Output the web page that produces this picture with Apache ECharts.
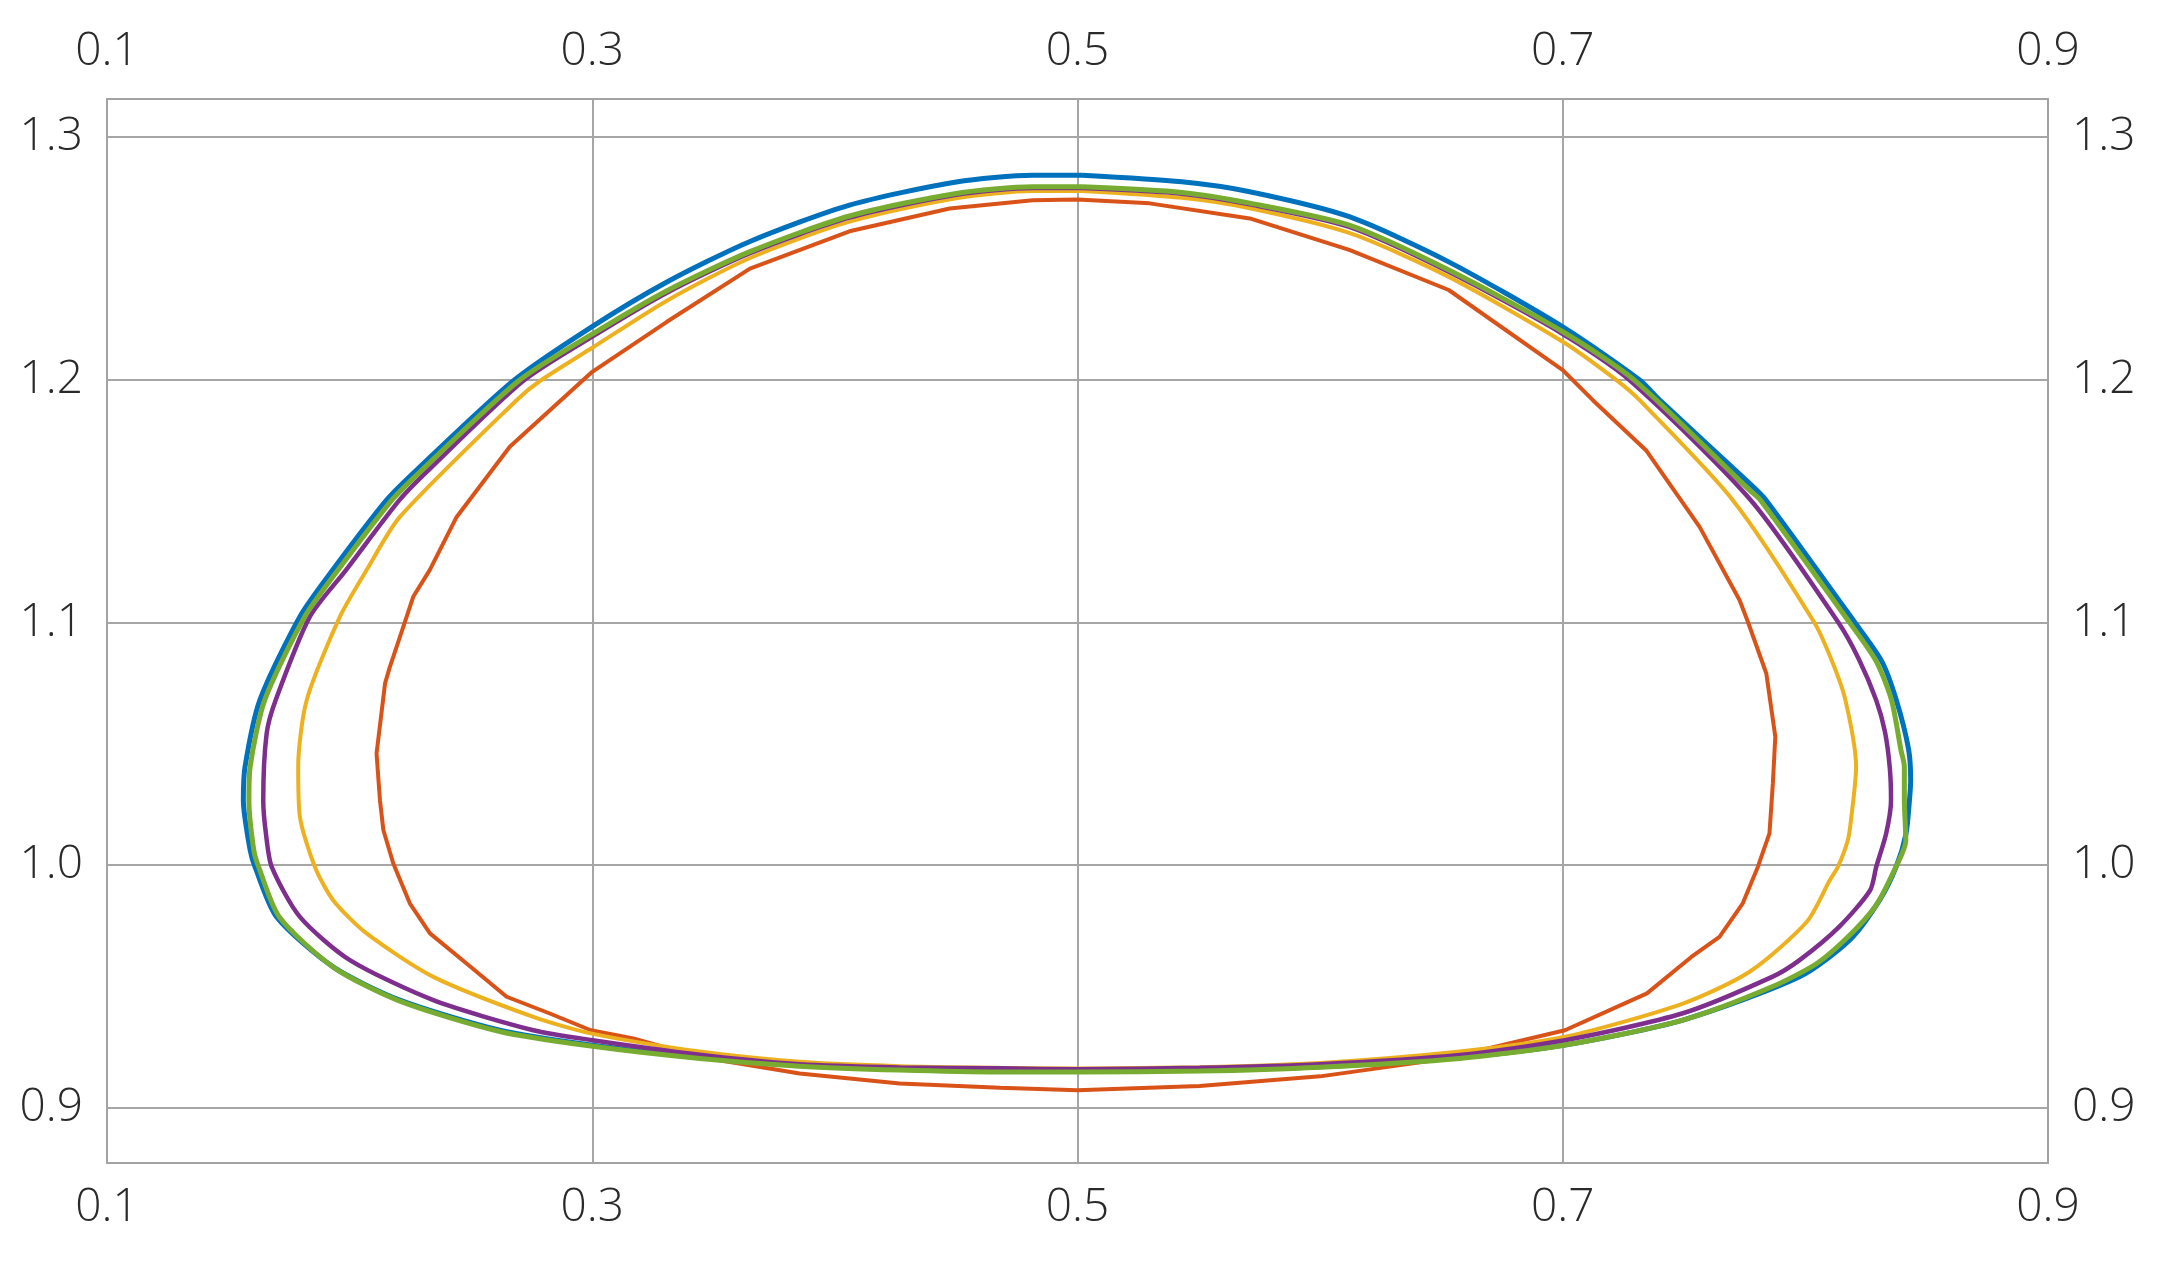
<!DOCTYPE html>
<html>
<head>
<meta charset="utf-8">
<script src="https://cdn.jsdelivr.net/npm/echarts@6/dist/echarts.min.js"></script>
<style>
  html, body { margin: 0; padding: 0; background: #ffffff; }
  #chart { width: 2160px; height: 1262px; }
</style>
</head>
<body>
<div id="chart"></div>
<script>
// ---- data (x, y) ----
const xTicks = [0.1, 0.3, 0.5, 0.7, 0.9];
const yTicks = [0.9, 1.0, 1.1, 1.2, 1.3];

const blueCurve = [
  [0.502,1.2843],[0.4815,1.2843],[0.450,1.2815],[0.406,1.272],[0.365,1.257],[0.3306,1.2402],
  [0.2993,1.2215],[0.2674,1.1995],[0.2276,1.1628],[0.2152,1.1504],[0.193,1.1216],[0.1795,1.1024],
  [0.163,1.068],[0.1569,1.0406],[0.1562,1.0268],[0.159,1.0062],[0.161,0.9993],[0.1699,0.9787],
  [0.1932,0.9581],[0.2207,0.9444],[0.2619,0.932],[0.2994,0.9259],[0.3443,0.9208],[0.3855,0.9175],
  [0.4267,0.916],[0.468,0.9152],[0.5,0.9152],[0.5503,0.9156],[0.6,0.917],[0.6575,0.9208],
  [0.7009,0.9259],[0.7495,0.9362],[0.7976,0.954],[0.8182,0.9691],[0.8306,0.9856],[0.8374,0.9993],
  [0.8415,1.0131],[0.8429,1.0268],[0.8434,1.035],[0.8425,1.048],[0.8375,1.068],[0.8315,1.084],
  [0.8202,1.1003],[0.7838,1.1504],[0.777,1.1573],[0.74,1.1916],[0.7317,1.1999],[0.7,1.2218],
  [0.653,1.2486],[0.612,1.2672],[0.571,1.2775],[0.543,1.2816],[0.502,1.2843]
];

const redCurve = [
  [0.5,1.2743],[0.4815,1.274],[0.4473,1.2706],[0.406,1.2612],[0.365,1.2458],[0.3306,1.2238],
  [0.3,1.2033],[0.266,1.1724],[0.2441,1.1435],[0.233,1.1216],[0.2262,1.1106],[0.2228,1.1003],
  [0.2166,1.0817],[0.2146,1.0749],[0.2111,1.046],[0.2125,1.0268],[0.2139,1.0145],[0.218,1.0007],
  [0.2248,0.9843],[0.2331,0.9719],[0.2482,0.9595],[0.2647,0.9458],[0.2825,0.9389],[0.2994,0.932],
  [0.3169,0.9286],[0.3443,0.921],[0.3855,0.9142],[0.4267,0.9101],[0.468,0.9083],[0.5,0.9073],
  [0.5503,0.909],[0.6,0.913],[0.65,0.92],[0.7009,0.932],[0.7347,0.9472],[0.753,0.9622],
  [0.7646,0.9705],[0.7742,0.9843],[0.7804,0.9993],[0.7852,1.0131],[0.7866,1.0337],[0.7876,1.053],
  [0.7839,1.079],[0.7763,1.1003],[0.7729,1.1092],[0.7564,1.1394],[0.7343,1.171],[0.7124,1.1916],
  [0.7,1.204],[0.653,1.237],[0.612,1.2535],[0.571,1.2665],[0.5297,1.2727],[0.5,1.2743]
];

const yellowCurve = [
  [0.502,1.2778],[0.4815,1.2778],[0.450,1.2748],[0.406,1.2652],[0.365,1.2502],[0.3306,1.2325],
  [0.3,1.2132],[0.2784,1.1995],[0.2688,1.1916],[0.2207,1.1435],[0.207,1.1216],[0.196,1.1024],
  [0.1823,1.068],[0.1788,1.0406],[0.1795,1.02],[0.1857,0.9993],[0.1932,0.9856],[0.207,0.9719],
  [0.2345,0.954],[0.2757,0.9375],[0.2994,0.9307],[0.3443,0.9232],[0.3855,0.919],[0.4267,0.9172],
  [0.468,0.9165],[0.5,0.9162],[0.5503,0.9168],[0.6,0.9185],[0.6575,0.9232],[0.7009,0.9293],
  [0.7495,0.943],[0.777,0.9561],[0.8006,0.9767],[0.8101,0.9939],[0.8134,0.9993],[0.8175,1.0103],
  [0.8188,1.0186],[0.8209,1.0406],[0.8165,1.068],[0.811,1.084],[0.8035,1.1003],[0.7701,1.1504],
  [0.7317,1.1916],[0.722,1.2],[0.7,1.2157],[0.653,1.2424],[0.612,1.2605],[0.571,1.2707],
  [0.543,1.275],[0.502,1.2778]
];

const purpleCurve = [
  [0.502,1.279],[0.4815,1.279],[0.450,1.2762],[0.406,1.2668],[0.365,1.2522],[0.3306,1.2358],
  [0.3,1.2178],[0.2715,1.1995],[0.2325,1.1628],[0.2205,1.1504],[0.1985,1.1216],[0.1836,1.1024],
  [0.1695,1.068],[0.1658,1.0543],[0.1644,1.0268],[0.1655,1.0131],[0.1679,0.9993],[0.1795,0.9787],
  [0.2001,0.9609],[0.2345,0.9444],[0.2757,0.932],[0.2994,0.928],[0.3443,0.9219],[0.3855,0.918],
  [0.4267,0.9167],[0.468,0.9163],[0.5,0.9159],[0.5503,0.9165],[0.6,0.918],[0.6575,0.9218],
  [0.7009,0.9279],[0.7495,0.939],[0.7863,0.954],[0.7976,0.9609],[0.8139,0.9746],[0.8267,0.9897],
  [0.8292,0.9993],[0.8333,1.0131],[0.8353,1.0268],[0.8348,1.04],[0.8328,1.055],[0.8292,1.068],
  [0.822,1.085],[0.8134,1.1003],[0.7775,1.1504],[0.7275,1.1999],[0.699,1.2195],[0.653,1.2445],
  [0.612,1.263],[0.571,1.2723],[0.543,1.2767],[0.502,1.279]
];

const greenCurve = [
  [0.502,1.2795],[0.4815,1.2795],[0.450,1.2768],[0.406,1.2675],[0.365,1.2528],[0.3306,1.2366],
  [0.3,1.2188],[0.2696,1.1995],[0.2298,1.1628],[0.2174,1.1504],[0.1952,1.1216],[0.1815,1.1024],
  [0.165,1.068],[0.159,1.0406],[0.1585,1.0268],[0.1605,1.0062],[0.1625,0.9993],[0.171,0.9787],
  [0.1935,0.9578],[0.2207,0.944],[0.2619,0.9315],[0.2994,0.9255],[0.3443,0.9204],[0.3855,0.9172],
  [0.4267,0.9156],[0.468,0.9148],[0.5,0.9148],[0.5503,0.9152],[0.6,0.9168],[0.6575,0.9204],
  [0.7009,0.9259],[0.7495,0.9362],[0.7863,0.9499],[0.8047,0.9595],[0.8176,0.9705],[0.8287,0.9829],
  [0.836,0.9966],[0.8414,1.0103],[0.8408,1.0268],[0.8408,1.0406],[0.8394,1.0474],[0.8355,1.068],
  [0.8292,1.084],[0.818,1.1003],[0.7815,1.1504],[0.777,1.1545],[0.7295,1.1999],[0.7,1.2198],
  [0.653,1.2452],[0.612,1.2637],[0.571,1.2728],[0.543,1.2772],[0.502,1.2795]
];

const seriesDefs = [
  { name: 'blue',   data: blueCurve,   color: '#0072BD', width: 5,   smooth: 0.25 },
  { name: 'red',    data: redCurve,    color: '#D95319', width: 4,   smooth: false },
  { name: 'yellow', data: yellowCurve, color: '#EDB120', width: 4,   smooth: 0.25 },
  { name: 'purple', data: purpleCurve, color: '#7E2F8E', width: 4.5, smooth: 0.25 },
  { name: 'green',  data: greenCurve,  color: '#77AC30', width: 5,   smooth: 0.25 }
];

const labelStyle = {
  fontFamily: '"Open Sans", Lato, sans-serif',
  fontWeight: 300,
  fontSize: 46,
  color: '#2a2a2a'
};

const chart = echarts.init(document.getElementById('chart'), null, { renderer: 'canvas' });

function xAxisDef(pos, showSplit) {
  return {
    type: 'value', position: pos, min: 0.1, max: 0.9, interval: 0.2,
    axisLine: { show: true, onZero: false, lineStyle: { color: '#a3a3a3', width: 2 } },
    axisTick: { show: false },
    splitLine: { show: showSplit, lineStyle: { color: '#a6a6a6', width: 2 } },
    axisLabel: Object.assign({
      margin: pos === 'top' ? 24 : 22,
      formatter: v => xTicks.find(t => Math.abs(t - v) < 1e-6) !== undefined ? v.toFixed(1) : ''
    }, labelStyle)
  };
}
function yAxisDef(pos, showSplit) {
  return {
    type: 'value', position: pos, min: 0.8773, max: 1.3157,
    minInterval: 0.1, maxInterval: 0.1, splitNumber: 5,
    axisLine: { show: true, onZero: false, lineStyle: { color: '#a3a3a3', width: 2 } },
    axisTick: { show: false },
    splitLine: { show: showSplit, lineStyle: { color: '#a6a6a6', width: 2 } },
    axisLabel: Object.assign({
      margin: 24,
      showMinLabel: false, showMaxLabel: false,
      formatter: v => yTicks.find(t => Math.abs(t - v) < 1e-6) !== undefined ? v.toFixed(1) : ''
    }, labelStyle)
  };
}

chart.setOption({
  backgroundColor: '#ffffff',
  animation: false,
  grid: { left: 107, right: 112, top: 99, bottom: 99, containLabel: false },
  xAxis: [xAxisDef('bottom', true), xAxisDef('top', false)],
  yAxis: [yAxisDef('left', true), yAxisDef('right', false)],
  series: seriesDefs.map(s => ({
    name: s.name,
    type: 'line',
    xAxisIndex: 0, yAxisIndex: 0,
    data: s.data,
    showSymbol: false,
    smooth: s.smooth,
    lineStyle: { color: s.color, width: s.width },
    itemStyle: { color: s.color },
    clip: true
  }))
});
</script>
</body>
</html>
